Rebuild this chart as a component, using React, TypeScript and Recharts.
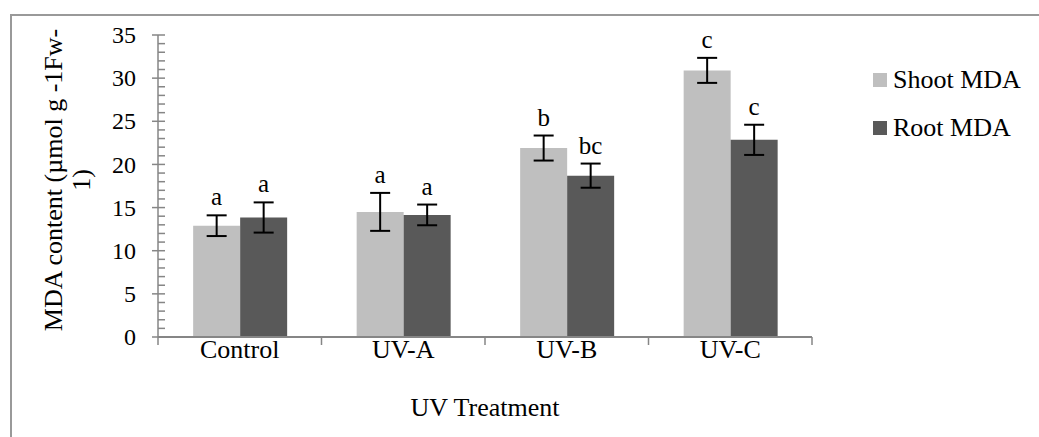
import React from 'react';
import { BarChart, Bar, XAxis, YAxis, ErrorBar, LabelList, Legend } from 'recharts';

const categories = ['Control', 'UV-A', 'UV-B', 'UV-C'];
const shootMDA = [12.9, 14.5, 21.9, 30.9];
const shootErr = [1.2, 2.2, 1.45, 1.45];
const rootMDA = [13.85, 14.15, 18.7, 22.85];
const rootErr = [1.75, 1.2, 1.4, 1.75];
const shootLetters = ['a', 'a', 'b', 'c'];
const rootLetters = ['a', 'a', 'bc', 'c'];
const majorTicks = [0, 5, 10, 15, 20, 25, 30, 35];
const seriesNames = ['Shoot MDA', 'Root MDA'];
const seriesColors = ['#BFBFBF', '#595959'];

const yTicks: number[] = [];
for (let i = 0; i < majorTicks.length - 1; i++) {
  const step = (majorTicks[i + 1] - majorTicks[i]) / 5;
  for (let k = 0; k < 5; k++) yTicks.push(majorTicks[i] + k * step);
}
yTicks.push(majorTicks[majorTicks.length - 1]);

const data = categories.map((c, i) => ({
  name: c,
  shoot: shootMDA[i],
  shootErr: shootErr[i],
  root: rootMDA[i],
  rootErr: rootErr[i],
}));

const W = 1039;
const H = 437;
const X_H = 100;
const Y_W = 158;
const M = { top: 35, right: 227, bottom: 0, left: 0 };
const PLOT_W = W - M.left - M.right - Y_W;
const BAND = PLOT_W / categories.length;
const FONT = '"Liberation Serif", "Times New Roman", serif';
const AXIS = '#868686';

const YTick = (props: any) => {
  const { x, y, payload } = props;
  const v = payload.value;
  const major = majorTicks.includes(v);
  return (
    <g>
      {major ? (
        <>
          <line x1={x - 6} x2={x + 7} y1={y} y2={y} stroke={AXIS} strokeWidth={1.5} />
          <text x={x - 22} y={y} dy="0.34em" textAnchor="end" fontFamily={FONT} fontSize={24} fill="#000">
            {v}
          </text>
        </>
      ) : (
        <line x1={x} x2={x + 7} y1={y} y2={y} stroke={AXIS} strokeWidth={1.5} />
      )}
    </g>
  );
};

const XTick = (props: any) => {
  const { x, y, payload, index } = props;
  const left = x - BAND / 2;
  return (
    <g>
      <line x1={left} x2={left} y1={y} y2={y + 8} stroke={AXIS} strokeWidth={1.5} />
      {index === categories.length - 1 && (
        <line x1={x + BAND / 2} x2={x + BAND / 2} y1={y} y2={y + 8} stroke={AXIS} strokeWidth={1.5} />
      )}
      <text x={x} y={y + 21} textAnchor="middle" fontFamily={FONT} fontSize={26} fill="#000">
        {payload.value}
      </text>
    </g>
  );
};

const makeLetter = (letters: string[], errs: number[]) => (p: any) => {
  const { x, y, width, height, value, index } = p;
  const pxPerUnit = height / value;
  const errTop = y - errs[index] * pxPerUnit;
  return (
    <text x={x + width / 2} y={errTop - 10} textAnchor="middle" fontFamily={FONT} fontSize={25} fill="#000">
      {letters[index]}
    </text>
  );
};

const YLabel = () => (
  <g>
    <text x={62} y={180} transform="rotate(-90, 62, 180)" textAnchor="middle" fontFamily={FONT} fontSize={26} fill="#000">
      MDA content (µmol g -1Fw-
    </text>
    <text x={90} y={180} transform="rotate(-90, 90, 180)" textAnchor="middle" fontFamily={FONT} fontSize={26} fill="#000">
      1)
    </text>
  </g>
);

const XLabel = (p: any) => {
  const vb = p.viewBox || {};
  const cx = (vb.x ?? Y_W) + (vb.width ?? PLOT_W) / 2;
  return (
    <text x={cx} y={416} textAnchor="middle" fontFamily={FONT} fontSize={26} fill="#000">
      UV Treatment
    </text>
  );
};

const LegendContent = () => (
  <div style={{ fontFamily: FONT, fontSize: 26, color: '#000', lineHeight: '48px' }}>
    {seriesNames.map((n, i) => (
      <div key={n} style={{ display: 'flex', alignItems: 'center', whiteSpace: 'nowrap' }}>
        <span style={{ display: 'inline-block', width: 14, height: 14, background: seriesColors[i], marginRight: 6 }} />
        <span>{n}</span>
      </div>
    ))}
  </div>
);

export default function App() {
  return (
    <div style={{ position: 'absolute', left: 0, top: 0, width: W, height: H, background: '#fff' }}>
      <div
        style={{
          position: 'absolute',
          left: 10,
          top: 14,
          width: W,
          height: H,
          borderLeft: '2px solid #999',
          borderTop: '2px solid #999',
          boxSizing: 'border-box',
        }}
      />
      <div style={{ position: 'absolute', left: 0, top: 0 }}>
        <BarChart width={W} height={H} data={data} margin={M} barGap={0} barCategoryGap="21.5%">
          <XAxis
            dataKey="name"
            height={X_H}
            axisLine={{ stroke: AXIS, strokeWidth: 2 }}
            tickLine={false}
            tickSize={0}
            tickMargin={0}
            tick={<XTick />}
            interval={0}
            label={{ content: <XLabel /> }}
          />
          <YAxis
            width={Y_W}
            domain={[0, 35]}
            ticks={yTicks}
            interval={0}
            allowDataOverflow
            axisLine={{ stroke: AXIS, strokeWidth: 1.5 }}
            tickLine={false}
            tickSize={0}
            tickMargin={0}
            tick={<YTick />}
            label={{ content: <YLabel /> }}
          />
          <Legend
            layout="horizontal"
            verticalAlign="middle"
            align="center"
            content={<LegendContent />}
            wrapperStyle={{ left: 873, top: 56, width: 'auto', height: 'auto' }}
          />
          <Bar dataKey="shoot" name={seriesNames[0]} fill={seriesColors[0]} isAnimationActive={false}>
            <ErrorBar dataKey="shootErr" width={10} strokeWidth={2} stroke="#000" />
            <LabelList dataKey="shoot" content={makeLetter(shootLetters, shootErr)} />
          </Bar>
          <Bar dataKey="root" name={seriesNames[1]} fill={seriesColors[1]} isAnimationActive={false}>
            <ErrorBar dataKey="rootErr" width={10} strokeWidth={2} stroke="#000" />
            <LabelList dataKey="root" content={makeLetter(rootLetters, rootErr)} />
          </Bar>
        </BarChart>
      </div>
    </div>
  );
}
